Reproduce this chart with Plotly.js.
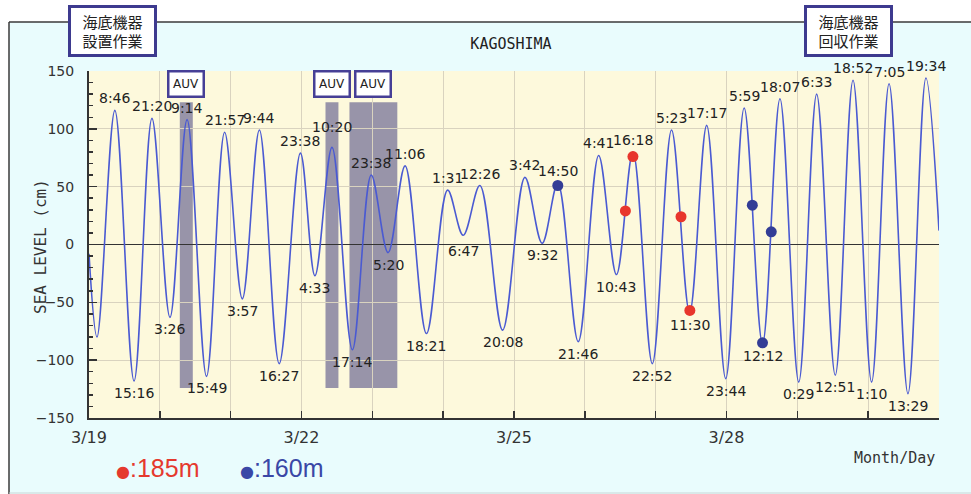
<!DOCTYPE html>
<html><head><meta charset="utf-8">
<script src="https://cdn.plot.ly/plotly-3.0.1.min.js"></script>
<style>html,body{margin:0;padding:0;background:#fff;} #chart{width:971px;height:494px;}</style>
</head><body><div id="chart"></div>
<script>
const YEAR = '2014';
// tide extrema (month-day time), level in cm, kind H=high label, L=low label, ''=no label
const tideTimes = ['03-19 00:00','03-19 02:43','03-19 08:46','03-19 15:16','03-19 21:20',
  '03-20 03:26','03-20 09:14','03-20 15:49','03-20 21:57',
  '03-21 03:57','03-21 09:44','03-21 16:27','03-21 23:38',
  '03-22 04:33','03-22 10:20','03-22 17:14','03-22 23:38',
  '03-23 05:20','03-23 11:06','03-23 18:21',
  '03-24 01:31','03-24 06:47','03-24 12:26','03-24 20:08',
  '03-25 03:42','03-25 09:32','03-25 14:50','03-25 21:46',
  '03-26 04:41','03-26 10:43','03-26 16:18','03-26 22:52',
  '03-27 05:23','03-27 11:30','03-27 17:17','03-27 23:44',
  '03-28 05:59','03-28 12:12','03-28 18:07',
  '03-29 00:29','03-29 06:33','03-29 12:51','03-29 18:52',
  '03-30 01:10','03-30 07:05','03-30 13:29','03-30 19:34','03-31 00:00'];
const tideLevels = [-8,-80,116,-118,109,
  -63,108,-114,97,
  -47,99,-103,79,
  -27,84,-91,60,
  -7,68,-77,
  47,8,51,-74,
  58,1,53,-84,
  77,-26,80,-103,
  99,-59,103,-116,
  118,-86,126,
  -119,130,-113,142,
  -119,139,-129,144,12];
const tideKinds = ['','','H','L','H',
  'L','H','L','H',
  'L','H','L','H',
  'L','H','L','H',
  'L','H','L',
  'H','L','H','L',
  'H','L','H','L',
  'H','L','H','L',
  'H','L','H','L',
  'H','L','H',
  'L','H','L','H',
  'L','H','L','H',''];
// observation points
const dots185Times = ['03-26 13:45','03-26 16:18','03-27 08:35','03-27 11:35'];
const dots185Levels = [29, 76, 24, -57];
const dots160Times = ['03-25 14:50','03-28 08:45','03-28 12:12','03-28 15:10'];
const dots160Levels = [51, 34, -85, 11];
// AUV operation windows
const auvStart = ['03-20 06:46','03-22 08:08','03-22 16:15'];
const auvEnd = ['03-20 11:10','03-22 12:31','03-23 08:28'];
const auvBottom = [-124,-124,-124];
const auvTop = [123,123,123];
const auvLabels = ['AUV','AUV','AUV'];
// axes
const xTickDays = ['03-19','03-20','03-21','03-22','03-23','03-24','03-25','03-26','03-27','03-28','03-29','03-30','03-31'];
const xTickLabels = ['3/19','','','3/22','','','3/25','','','3/28','','',''];
const legendLabels = [':185m', ':160m'];
const workLabels = ['海底機器<br>設置作業', '海底機器<br>回収作業'];

// style: extra lift (px) for a few crowded time labels
const labelLift = {'03-22 10:20': 8, '03-24 06:47': -4};

const d = s => YEAR + '-' + s;
const ms = s => new Date(d(s).replace(' ', 'T') + ':00Z').getTime();
const iso = v => new Date(v).toISOString().slice(0,19).replace('T',' ');

const traces = [
  {x: tideTimes.map(d), y: tideLevels, mode: 'lines', type: 'scatter',
   line: {color: '#4a5ad2', width: 1.6, shape: 'spline', smoothing: 1}, hoverinfo: 'skip'},
  {x: dots185Times.map(d), y: dots185Levels, mode: 'markers', type: 'scatter',
   marker: {color: '#e8362c', size: 11}},
  {x: dots160Times.map(d), y: dots160Levels, mode: 'markers', type: 'scatter',
   marker: {color: '#333d96', size: 11}}
];

const CW = 850, CH = 347; // plot area px
const px = X => (X - 89) / CW;      // paper x from page px
const py = Y => (418 - Y) / CH;     // paper y from page px

const shapes = [];
auvStart.forEach((s, i) => {
  shapes.push({type: 'rect', xref: 'x', yref: 'y', x0: d(s), x1: d(auvEnd[i]),
    y0: auvBottom[i], y1: auvTop[i], fillcolor: '#9894a9', line: {width: 0}, layer: 'below'});
});
// frame
shapes.push({type:'rect', xref:'paper', yref:'paper', x0:-0.2, x1:1.2, y0:py(22), y1:py(-40), fillcolor:'#ffffff', line:{width:0}, layer:'below'});
shapes.push({type:'rect', xref:'paper', yref:'paper', x0:-0.2, x1:px(9), y0:py(560), y1:py(-40), fillcolor:'#ffffff', line:{width:0}, layer:'below'});
shapes.push({type:'line', xref:'paper', yref:'paper', x0:px(9), x1:1.2, y0:py(22), y1:py(22), line:{color:'#3a3a3a', width:1.5}, layer:'below'});
shapes.push({type:'line', xref:'paper', yref:'paper', x0:px(9), x1:px(9), y0:py(22), y1:py(560), line:{color:'#3a3a3a', width:1.5}, layer:'below'});
shapes.push({type:'line', xref:'paper', yref:'paper', x0:px(9), x1:1.2, y0:py(493), y1:py(493), line:{color:'#c9d6d6', width:1}, layer:'below'});

const annotations = [];
tideTimes.forEach((t, i) => {
  const k = tideKinds[i];
  if (!k) return;
  const lab = t.slice(6).replace(/^0(\d)/, '$1');
  const lift = labelLift[t] || 0;
  annotations.push({x: d(t), y: tideLevels[i], xref: 'x', yref: 'y', text: lab, showarrow: false,
    yanchor: k === 'H' ? 'bottom' : 'top', yshift: (k === 'H' ? 2 : -2) + lift,
    font: {family: 'DejaVu Sans', size: 14, color: '#222'}});
});
auvStart.forEach((s, i) => {
  const c = iso((ms(s) + ms(auvEnd[i])) / 2);
  annotations.push({x: c, y: py(70), xref: 'x', yref: 'paper', text: auvLabels[i], showarrow: false,
    yanchor: 'top', xanchor: 'center', bgcolor: '#ffffff', bordercolor: '#463f96', borderwidth: 2.5, borderpad: 2,
    width: 29, height: 19, font: {family: 'DejaVu Sans', size: 12, color: '#222'}});
});
[[112.5, workLabels[0]], [848, workLabels[1]]].forEach(([cx, txt]) => {
  annotations.push({x: px(cx), y: py(31), xref: 'paper', yref: 'paper', text: txt, showarrow: false,
    xanchor: 'center', yanchor: 'middle', bgcolor: '#ffffff', bordercolor: '#3d3a8f', borderwidth: 3, borderpad: 2,
    width: 79, height: 42, font: {family: 'Noto Sans CJK JP', size: 15, color: '#222'}});
});
annotations.push({x: px(40), y: py(247), xref: 'paper', yref: 'paper', text: 'SEA LEVEL (cm)', textangle: -90,
  showarrow: false, xanchor: 'center', yanchor: 'middle', font: {family: 'DejaVu Sans Mono', size: 16, color: '#333'}});
annotations.push({x: px(937), y: py(458), xref: 'paper', yref: 'paper', text: 'Month/Day',
  showarrow: false, xanchor: 'right', yanchor: 'middle', font: {family: 'DejaVu Sans Mono', size: 15, color: '#333'}});
annotations.push({x: px(114), y: py(468), xref: 'paper', yref: 'paper',
  text: '<span style="font-size:16px;font-family:DejaVu Sans">●</span>' + legendLabels[0], showarrow: false, xanchor: 'left', yanchor: 'middle',
  font: {family: 'Liberation Sans', size: 25, color: '#e5392e'}});
annotations.push({x: px(238), y: py(468), xref: 'paper', yref: 'paper',
  text: '<span style="font-size:16px;font-family:DejaVu Sans">●</span>' + legendLabels[1], showarrow: false, xanchor: 'left', yanchor: 'middle',
  font: {family: 'Liberation Sans', size: 25, color: '#3a47a6'}});

const layout = {
  width: 971, height: 494,
  margin: {l: 89, r: 32, t: 71, b: 76, pad: 0},
  paper_bgcolor: '#e9fcfd',
  plot_bgcolor: '#fdf9dc',
  showlegend: false,
  title: {text: 'KAGOSHIMA', xref: 'container', x: 511/971, xanchor: 'center', yref: 'container', y: 1 - 44/494, yanchor: 'middle',
    font: {family: 'DejaVu Sans Mono', size: 15, color: '#222'}},
  xaxis: {type: 'date', range: [d('03-19 00:00'), d('03-31 00:00')], tickmode: 'array',
    tickvals: xTickDays.map(d), ticktext: xTickLabels, ticks: 'inside', ticklen: 7, tickwidth: 1.5, tickcolor: '#333',
    showline: true, linecolor: '#333', linewidth: 2, showgrid: true, gridcolor: '#d9d3bf', gridwidth: 1,
    zeroline: false, tickfont: {family: 'DejaVu Sans', size: 16, color: '#333'}, ticklabelstandoff: 4},
  yaxis: {range: [-150, 150], tick0: 0, dtick: 50, ticks: 'inside', ticklen: 8, tickwidth: 1.5, tickcolor: '#333',
    minor: {dtick: 10, ticks: 'inside', ticklen: 4, tickcolor: '#333', showgrid: false},
    showline: true, linecolor: '#333', linewidth: 2, showgrid: true, gridcolor: '#d9d3bf', gridwidth: 1,
    zeroline: true, zerolinecolor: '#333', zerolinewidth: 1.5,
    tickfont: {family: 'DejaVu Sans', size: 14, color: '#333'}, ticklabelstandoff: 10},
  shapes: shapes,
  annotations: annotations
};
Plotly.newPlot('chart', traces, layout, {displayModeBar: false, staticPlot: true});
</script></body></html>
